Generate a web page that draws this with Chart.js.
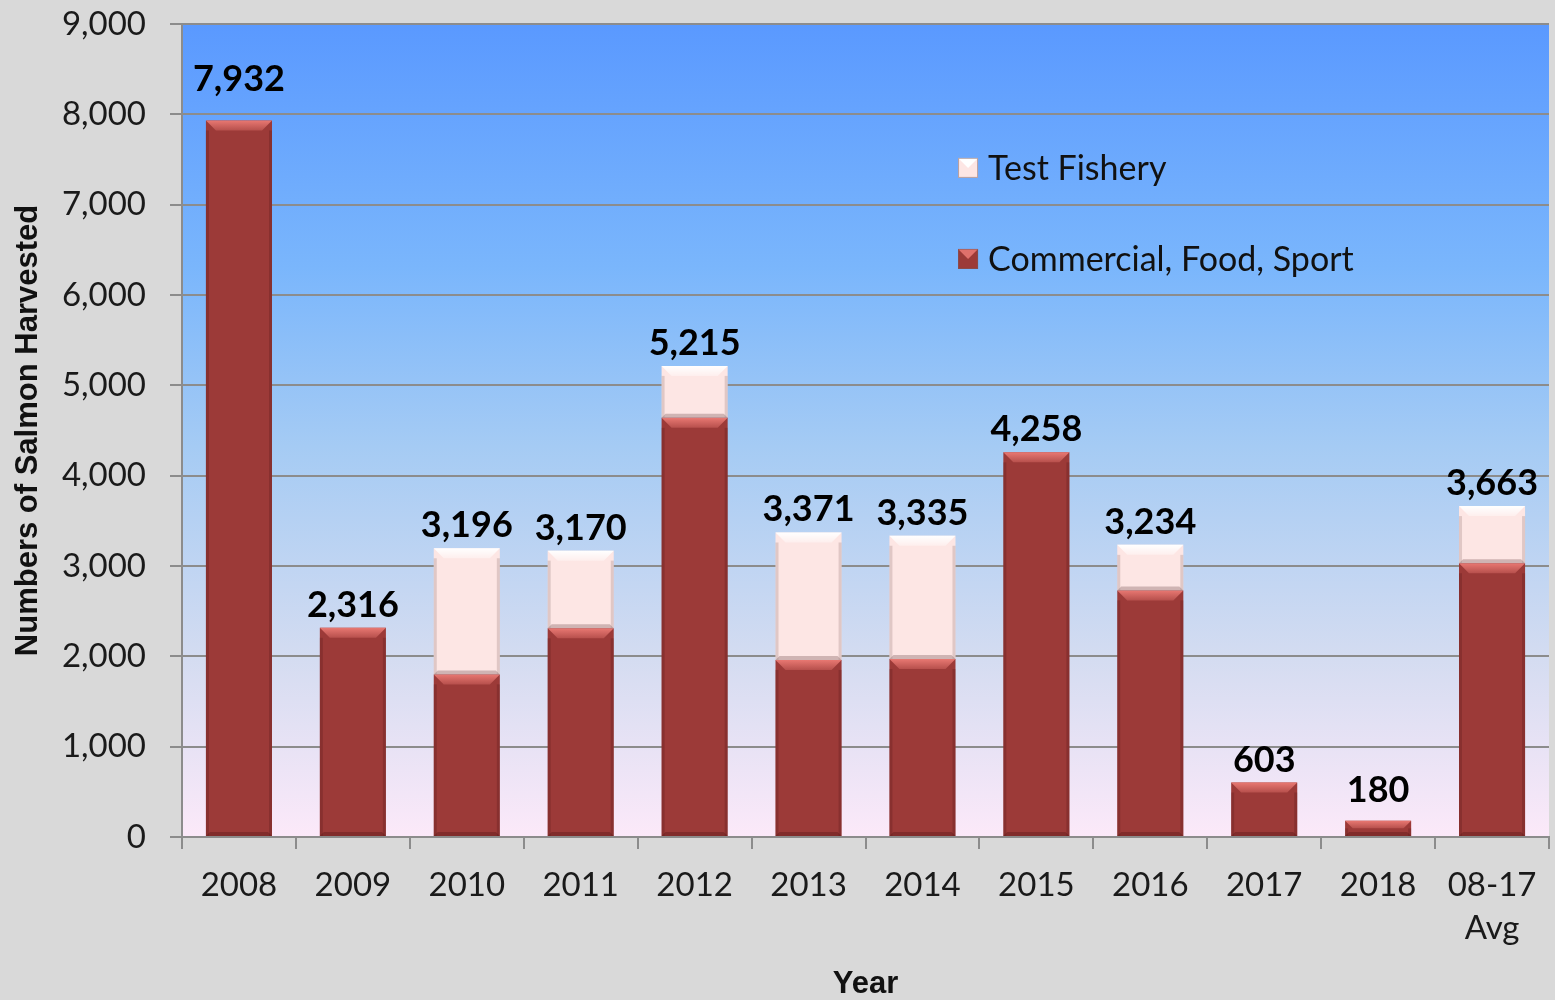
<!DOCTYPE html>
<html>
<head>
<meta charset="utf-8">
<script src="https://cdn.jsdelivr.net/npm/chart.js@4/dist/chart.umd.min.js"></script>
<style>
html,body{margin:0;padding:0;background:#d9d9d9;}
#wrap{width:1555px;height:1000px;position:relative;}
</style>
</head>
<body>
<div id="wrap"><canvas id="c" width="1555" height="1000"></canvas></div>
<script>
const categories = [["2008"],["2009"],["2010"],["2011"],["2012"],["2013"],["2014"],["2015"],["2016"],["2017"],["2018"],["08-17","Avg"]];
const commercialFoodSport = [7932, 2316, 1800, 2310, 4640, 1960, 1970, 4258, 2730, 603, 180, 3030];
const testFishery = [0, 0, 1396, 860, 575, 1411, 1365, 0, 504, 0, 0, 633];
const totalLabels = ["7,932","2,316","3,196","3,170","5,215","3,371","3,335","4,258","3,234","603","180","3,663"];
const yTicks = [0,1000,2000,3000,4000,5000,6000,7000,8000,9000];

const FONT = "Lato, 'Open Sans', sans-serif";
const TFONT = "'Liberation Sans', Arial, sans-serif";
const RED = '#9c3a38';
const PINK = '#fde6e4';

const bgPlugin = {
  id: 'bg',
  beforeDraw(chart) {
    const {ctx, chartArea: a} = chart;
    ctx.save();
    ctx.fillStyle = '#d9d9d9';
    ctx.fillRect(0, 0, chart.width, chart.height);
    const g = ctx.createLinearGradient(0, a.top, 0, a.bottom);
    g.addColorStop(0, '#5a99ff');
    g.addColorStop(0.3, '#7ab6fc');
    g.addColorStop(0.52, '#a5cbf4');
    g.addColorStop(0.78, '#d4dcf1');
    g.addColorStop(1, '#fce9f9');
    ctx.fillStyle = g;
    ctx.fillRect(a.left, a.top, a.right - a.left, a.bottom - a.top);
    ctx.restore();
  }
};

function bevel(ctx, x0, y0, x1, y1, light, dark, edge) {
  const h = y1 - y0;
  if (h <= 0) return;
  const b = Math.min(10, h / 2);
  const g = ctx.createLinearGradient(0, y0, 0, y0 + b);
  g.addColorStop(0, light);
  g.addColorStop(1, light.replace(/[\d.]+\)$/, '0.35)'));
  ctx.fillStyle = g;
  ctx.beginPath();
  ctx.moveTo(x0, y0); ctx.lineTo(x1, y0); ctx.lineTo(x1 - b, y0 + b); ctx.lineTo(x0 + b, y0 + b); ctx.closePath();
  ctx.fill();
  ctx.fillStyle = edge;
  ctx.fillRect(x0, y0 + b, 3, h - b);
  ctx.fillRect(x1 - 3, y0 + b, 3, h - b);
  ctx.fillStyle = dark;
  const bb = Math.min(4, h / 3);
  ctx.beginPath();
  ctx.moveTo(x0, y1); ctx.lineTo(x1, y1); ctx.lineTo(x1 - bb, y1 - bb); ctx.lineTo(x0 + bb, y1 - bb); ctx.closePath();
  ctx.fill();
}

const bevelPlugin = {
  id: 'bevel',
  afterDatasetsDraw(chart) {
    const ctx = chart.ctx;
    ctx.save();
    chart.data.datasets.forEach((ds, di) => {
      const meta = chart.getDatasetMeta(di);
      meta.data.forEach((el, i) => {
        if (!ds.data[i]) return;
        const {x, y, base, width} = el.getProps(['x','y','base','width'], true);
        const x0 = x - width / 2, x1 = x + width / 2;
        if (di === 0) bevel(ctx, x0, y, x1, base, 'rgba(232,120,114,1)', 'rgba(80,20,20,0.35)', 'rgba(90,25,25,0.3)');
        else bevel(ctx, x0, y, x1, base, 'rgba(255,255,255,1)', 'rgba(150,120,120,0.45)', 'rgba(170,140,140,0.35)');
      });
    });
    ctx.restore();
  }
};

const labelPlugin = {
  id: 'totals',
  afterDatasetsDraw(chart, args, opts) {
    const ctx = chart.ctx;
    const yScale = chart.scales.y;
    const meta0 = chart.getDatasetMeta(0);
    ctx.save();
    ctx.font = "bold 36px " + FONT;
    ctx.fillStyle = '#000';
    ctx.textAlign = 'center';
    ctx.textBaseline = 'alphabetic';
    meta0.data.forEach((el, i) => {
      const tot = commercialFoodSport[i] + testFishery[i];
      const y = yScale.getPixelForValue(tot);
      const nudge = (opts.nudge && opts.nudge[i]) || 0;
      ctx.fillText(totalLabels[i], el.x, y - 11 - nudge);
    });
    ctx.restore();
  }
};

const legendPlugin = {
  id: 'myLegend',
  afterDraw(chart) {
    const ctx = chart.ctx, a = chart.chartArea;
    const items = [
      {text: 'Test Fishery', fill: PINK, top: '#ffffff'},
      {text: 'Commercial, Food, Sport', fill: RED, top: '#e0706b'}
    ];
    const x = a.left + 0.5677 * (a.right - a.left);
    const ys = [a.top + 0.177 * (a.bottom - a.top), a.top + 0.289 * (a.bottom - a.top)];
    ctx.save();
    ctx.font = "34px " + FONT;
    ctx.textBaseline = 'middle';
    items.forEach((it, k) => {
      const y = ys[k];
      ctx.fillStyle = it.fill;
      ctx.fillRect(x, y - 10, 20, 20);
      ctx.fillStyle = it.top;
      ctx.beginPath();
      ctx.moveTo(x, y - 10); ctx.lineTo(x + 20, y - 10); ctx.lineTo(x + 10, y); ctx.closePath(); ctx.fill();
      ctx.strokeStyle = 'rgba(120,90,90,0.5)';
      ctx.lineWidth = 1;
      ctx.strokeRect(x + 0.5, y - 9.5, 19, 19);
      ctx.fillStyle = '#111';
      ctx.fillText(it.text, x + 30, y + 1);
    });
    ctx.restore();
  }
};

new Chart(document.getElementById('c'), {
  type: 'bar',
  data: {
    labels: categories,
    datasets: [
      {label: 'Commercial, Food, Sport', data: commercialFoodSport, backgroundColor: RED, barPercentage: 0.58, categoryPercentage: 1},
      {label: 'Test Fishery', data: testFishery, backgroundColor: PINK, barPercentage: 0.58, categoryPercentage: 1}
    ]
  },
  options: {
    responsive: false,
    animation: false,
    layout: {padding: {top: 24, right: 6, left: 0, bottom: 0}},
    plugins: {legend: {display: false}, tooltip: {enabled: false}, totals: {nudge: {0: 18, 10: 8}}},
    scales: {
      x: {
        stacked: true,
        grid: {display: true, drawOnChartArea: false, offset: true, color: '#8c8c8c', tickLength: 12, lineWidth: 2},
        border: {display: true, color: '#8c8c8c', width: 2},
        ticks: {color: '#1a1a1a', font: {family: FONT, size: 33, lineHeight: 1.33}, padding: 14, maxRotation: 0, autoSkip: false},
        title: {display: true, text: 'Year', color: '#111', font: {family: TFONT, size: 31, weight: 'bold', lineHeight: 1.0}, padding: {top: 0, bottom: 0}},
        afterFit(s) { s.height = 163; s.paddingLeft = 0; s.paddingRight = 0; }
      },
      y: {
        stacked: true,
        min: 0, max: 9000,
        afterBuildTicks(s) { s.ticks = yTicks.map(v => ({value: v})); },
        grid: {color: '#8c8c8c', tickLength: 12, lineWidth: 2},
        border: {display: true, color: '#8c8c8c', width: 2},
        ticks: {color: '#1a1a1a', font: {family: FONT, size: 33}, padding: 24,
          callback: v => v.toLocaleString('en-US')},
        title: {display: true, text: 'Numbers of Salmon Harvested', color: '#111', font: {family: TFONT, size: 31, weight: 'bold', lineHeight: 1.2}, padding: {top: 10, bottom: 0}},
        afterFit(s) { s.width = 182; s.paddingTop = 0; s.paddingBottom = 0; }
      }
    }
  },
  plugins: [bgPlugin, bevelPlugin, labelPlugin, legendPlugin]
});
</script>
</body>
</html>
